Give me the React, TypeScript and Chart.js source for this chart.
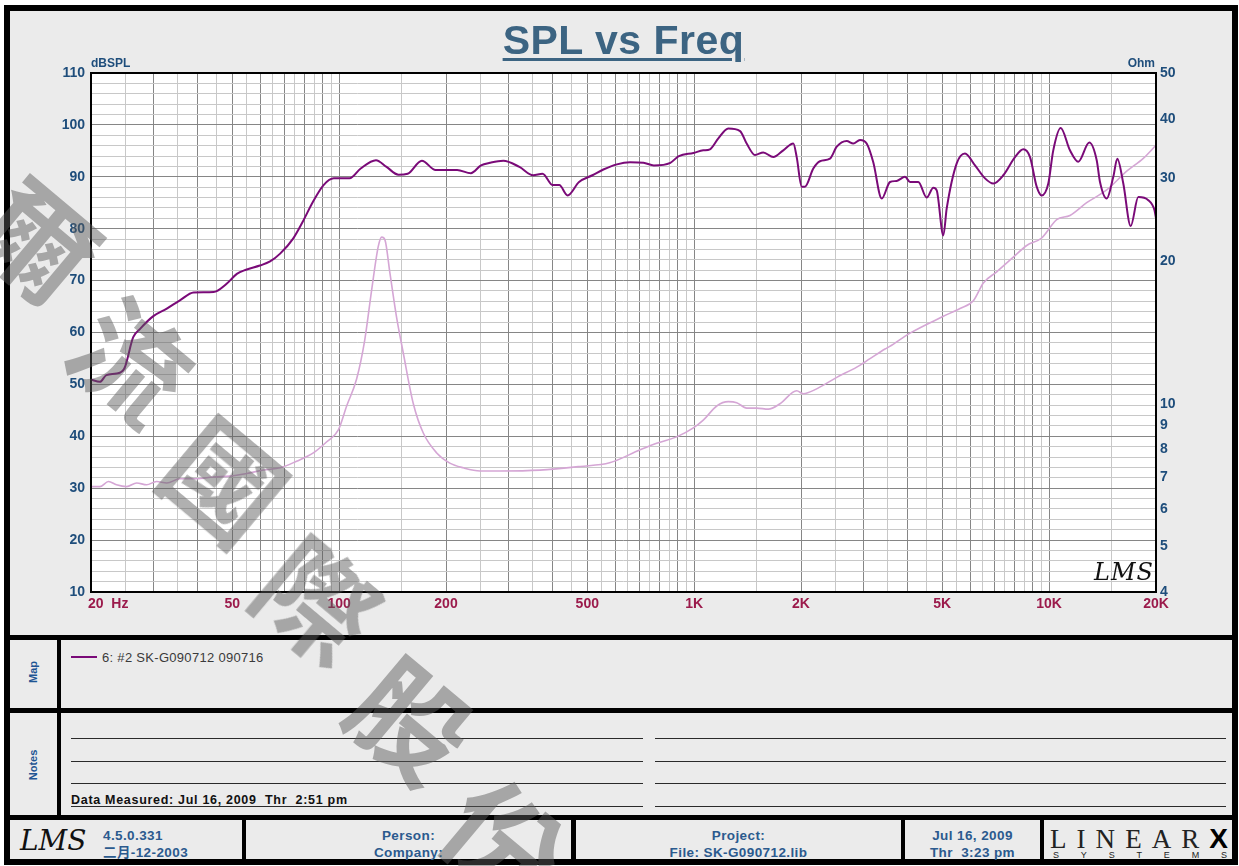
import React, { useEffect, useRef } from "react";
import { Chart, registerables } from "chart.js";

Chart.register(...registerables);

const FONT = "'Liberation Sans', Arial, sans-serif";

// ---- SPL curve (Hz, dBSPL) ----
const splFreq = [20, 21.2, 22.1, 23.6, 24.8, 26.3, 27.5, 29.9, 32.7, 35.6, 38.9, 44.3, 48.2, 51.5, 54.7, 59.8, 63.9, 68.2, 74.2, 78.9, 84.4, 90.4, 96.6, 107, 115, 127, 136, 147, 156, 171, 187, 215, 235, 251, 266, 290, 322, 352, 374, 400, 417, 440, 474, 517, 555, 606, 660, 720, 770, 857, 906, 995, 1061, 1108, 1170, 1248, 1347, 1406, 1484, 1566, 1671, 1783, 1903, 1945, 2009, 2052, 2166, 2262, 2414, 2522, 2690, 2808, 2932, 3062, 3196, 3376, 3563, 3721, 3926, 4056, 4280, 4520, 4718, 4823, 5035, 5146, 5491, 5794, 6183, 6598, 6961, 7430, 8013, 8458, 8834, 9224, 9528, 9946, 10272, 10778, 11448, 12080, 12974, 13614, 13908, 14526, 15162, 15562, 16178, 16972, 17830, 19026, 19800, 20000];
const splDb = [50.9, 50.5, 51.8, 52.1, 53.0, 59.1, 60.7, 63.1, 64.6, 66.2, 67.7, 67.8, 69.4, 71.3, 72.1, 72.9, 73.7, 75.2, 78.1, 81.3, 85.2, 88.4, 89.7, 89.7, 91.6, 93.2, 91.9, 90.4, 90.6, 93.1, 91.3, 91.3, 90.7, 92.2, 92.7, 93.1, 91.9, 90.3, 90.6, 88.4, 88.4, 86.4, 89.0, 90.3, 91.4, 92.4, 92.8, 92.7, 92.2, 92.7, 94.0, 94.6, 95.1, 95.3, 97.4, 99.3, 98.8, 96.4, 94.2, 94.7, 93.8, 95.1, 96.4, 93.8, 88.1, 88.1, 91.6, 93.0, 93.5, 95.8, 96.9, 96.4, 97.1, 96.4, 92.8, 85.8, 89.0, 89.2, 90.0, 89.0, 89.0, 86.0, 87.9, 87.4, 78.7, 83.9, 92.6, 94.5, 92.2, 89.7, 88.7, 90.3, 93.8, 95.3, 93.8, 88.1, 86.4, 88.7, 95.1, 99.4, 95.1, 92.9, 96.6, 93.2, 89.0, 85.8, 90.0, 93.5, 88.7, 80.5, 86.1, 85.5, 83.6, 82.0];

// ---- Impedance curve (Hz, Ohm) ----
const impFreq = [20, 21.2, 22.4, 23.6, 25.2, 26.9, 28.7, 30.6, 32.7, 35.6, 39.7, 44.2, 49.3, 54.9, 61.2, 68.2, 75.9, 84.6, 92.3, 99.5, 105, 112, 118, 123.5, 128.9, 131.8, 134.6, 139, 145, 151.6, 161.8, 172.6, 188.3, 205, 223.8, 249.4, 284, 368, 478, 578, 704, 784, 893, 995, 1061, 1158, 1248, 1318, 1406, 1501, 1618, 1745, 1945, 2030, 2214, 2522, 2871, 3129, 3449, 3548, 4056, 5035, 5610, 6116, 6527, 7118, 7926, 8645, 9528, 10504, 11448, 12758, 14526, 16540, 18416, 20000];
const impOhm = [6.68, 6.68, 6.85, 6.74, 6.68, 6.8, 6.74, 6.85, 6.8, 6.94, 6.94, 7.0, 7.03, 7.12, 7.24, 7.32, 7.56, 7.87, 8.31, 8.8, 9.89, 11.28, 13.6, 17.4, 21.5, 22.5, 22.2, 18.9, 15.3, 12.8, 10.0, 8.67, 7.87, 7.49, 7.32, 7.21, 7.21, 7.24, 7.37, 7.5, 7.99, 8.25, 8.51, 8.89, 9.23, 9.89, 10.1, 10.05, 9.79, 9.79, 9.74, 10.0, 10.65, 10.5, 10.75, 11.37, 11.95, 12.45, 13.05, 13.2, 14.1, 15.3, 15.9, 16.5, 18.0, 19.0, 20.4, 21.6, 22.4, 24.5, 25.0, 26.6, 28.3, 31.0, 33.0, 35.2];

// ---- Axes ----
const xLabelValues = [20, 50, 100, 200, 500, 1000, 2000, 5000, 10000, 20000];
const xLabelTexts = ["20  Hz", "50", "100", "200", "500", "1K", "2K", "5K", "10K", "20K"];
const gridDecades = [10, 100, 1000, 10000];
const gridSteps = [1, 1.5, 2, 2.5, 3, 3.5, 4, 4.5, 5, 5.5, 6, 6.5, 7, 7.5, 8, 8.5, 9, 9.5];
const ohmTicks = [4, 5, 6, 7, 8, 9, 10, 20, 30, 40, 50];
const watermarkChars = ["爾", "流", "國", "際", "股", "份"];

const xGridTicks: number[] = [];
gridDecades.forEach((d) => gridSteps.forEach((s) => {
  const v = Math.round(d * s);
  if (v >= 20 && v <= 20000) xGridTicks.push(v);
}));

const isWhole = (v: number) => {
  const m = v / Math.pow(10, Math.floor(Math.log10(v) + 1e-9));
  return Math.abs(m - Math.round(m)) < 1e-6;
};

const AXIS_BLUE = "#1e4d7b";
const FOOT_BLUE = "#2b5a8e";

const framePlugin = {
  id: "lmsFrame",
  beforeDraw(chart: any) {
    const { ctx, chartArea: a } = chart;
    ctx.save();
    ctx.fillStyle = "#ffffff";
    ctx.fillRect(a.left, a.top, a.right - a.left, a.bottom - a.top);
    ctx.restore();
  },
  afterDraw(chart: any) {
    const { ctx, chartArea: a } = chart;
    ctx.save();
    ctx.strokeStyle = "#000";
    ctx.lineWidth = 2;
    ctx.strokeRect(a.left, a.top, a.right - a.left, a.bottom - a.top);
    const xs = chart.scales.x;
    ctx.font = `bold 14px ${FONT}`;
    ctx.fillStyle = "#9b1a4b";
    ctx.textBaseline = "middle";
    xLabelValues.forEach((v, i) => {
      const px = xs.getPixelForValue(v);
      if (i === 0) {
        ctx.textAlign = "left";
        ctx.fillText(xLabelTexts[i], px - 3, a.bottom + 12);
      } else {
        ctx.textAlign = "center";
        ctx.fillText(xLabelTexts[i], px, a.bottom + 12);
      }
    });
    ctx.restore();
  },
};

function Rect({ x, y, w, h, c = "#000" }: { x: number; y: number; w: number; h: number; c?: string }) {
  return <div style={{ position: "absolute", left: x, top: y, width: w, height: h, background: c }} />;
}

function Txt({ x, y, children, style }: any) {
  return (
    <div style={{ position: "absolute", left: x, top: y, whiteSpace: "pre", lineHeight: 1, ...style }}>{children}</div>
  );
}

export default function App() {
  const ref = useRef<HTMLCanvasElement>(null);

  useEffect(() => {
    const canvas = ref.current!;
    const chart = new Chart(canvas, {
      type: "line",
      data: {
        datasets: [
          {
            label: "SPL",
            data: splFreq.map((f, i) => ({ x: f, y: splDb[i] })),
            yAxisID: "y",
            borderColor: "#7a0a78",
            borderWidth: 2,
            pointRadius: 0,
            cubicInterpolationMode: "monotone",
          },
          {
            label: "Impedance",
            data: impFreq.map((f, i) => ({ x: f, y: impOhm[i] })),
            yAxisID: "y1",
            borderColor: "#d5a6d5",
            borderWidth: 1.6,
            pointRadius: 0,
            cubicInterpolationMode: "monotone",
          },
        ],
      },
      options: {
        animation: false,
        responsive: false,
        maintainAspectRatio: false,
        events: [],
        layout: { padding: { left: 51, right: 43, top: 73, bottom: 48 } },
        plugins: { legend: { display: false }, tooltip: { enabled: false }, title: { display: false } },
        scales: {
          x: {
            type: "logarithmic",
            min: 20,
            max: 20000,
            afterBuildTicks: (s: any) => {
              s.ticks = xGridTicks.map((v) => ({ value: v }));
            },
            afterFit: (s: any) => {
              s.height = 0;
            },
            ticks: { display: false, autoSkip: false },
            border: { display: false },
            grid: {
              drawTicks: false,
              lineWidth: 1,
              color: (ctx: any) => (ctx.tick && isWhole(ctx.tick.value) ? "#868686" : "#c8c8c8"),
            },
          },
          y: {
            type: "linear",
            position: "left",
            min: 10,
            max: 110,
            afterFit: (s: any) => {
              s.width = 40;
            },
            ticks: {
              stepSize: 2,
              autoSkip: false,
              padding: 6,
              color: AXIS_BLUE,
              font: { family: FONT, size: 14, weight: "bold" },
              callback: (v: any) => (Math.round(v) % 10 === 0 ? String(v) : ""),
            },
            border: { display: false },
            grid: {
              drawTicks: false,
              lineWidth: 1,
              color: (ctx: any) => (ctx.tick && Math.round(ctx.tick.value) % 10 === 0 ? "#868686" : "#c8c8c8"),
            },
          },
          y1: {
            type: "logarithmic",
            position: "right",
            min: 4,
            max: 50,
            afterBuildTicks: (s: any) => {
              s.ticks = ohmTicks.map((v) => ({ value: v }));
            },
            afterFit: (s: any) => {
              s.width = 40;
            },
            ticks: {
              autoSkip: false,
              padding: 4,
              color: AXIS_BLUE,
              font: { family: FONT, size: 14, weight: "bold" },
              callback: (v: any) => String(v),
            },
            border: { display: false },
            grid: { drawOnChartArea: false, drawTicks: false },
          },
        },
      } as any,
      plugins: [framePlugin],
    });
    return () => chart.destroy();
  }, []);

  const blueBold = { color: FOOT_BLUE, fontWeight: "bold", fontSize: 13.5, letterSpacing: 0.4, fontFamily: FONT };
  const noteYs = [738, 761, 783, 806];

  return (
    <div
      style={{
        position: "absolute",
        left: 0,
        top: 0,
        width: 1239,
        height: 866,
        background: "#ffffff",
        overflow: "hidden",
        fontFamily: FONT,
      }}
    >
      <Rect x={4} y={5} w={1234} h={860} c="#ebebeb" />
      {/* frame bars */}
      <Rect x={4} y={5} w={1234} h={6} />
      <Rect x={4} y={859} w={1234} h={6} />
      <Rect x={4} y={5} w={6} h={860} />
      <Rect x={1232} y={5} w={6} h={860} />
      <Rect x={4} y={635} w={1234} h={5} />
      <Rect x={4} y={708} w={1234} h={5} />
      <Rect x={4} y={815} w={1234} h={5} />
      <Rect x={57} y={640} w={4} h={175} />
      <Rect x={242} y={820} w={4} h={39} />
      <Rect x={571} y={820} w={5} h={39} />
      <Rect x={901} y={820} w={4} h={39} />
      <Rect x={1040} y={820} w={4} h={39} />

      <canvas
        ref={ref}
        width={1239}
        height={640}
        style={{ position: "absolute", left: 0, top: 0, width: 1239, height: 640 }}
      />

      {/* title and units */}
      <div
        style={{
          position: "absolute",
          left: 4,
          top: 20,
          width: 1239,
          textAlign: "center",
          fontSize: 41,
          lineHeight: "41px",
          letterSpacing: 0.5,
          fontWeight: "bold",
          color: "#3c6482",
          textDecoration: "underline",
          textDecorationThickness: "3px",
          textUnderlineOffset: "3.5px",
        }}
      >
        SPL vs Freq
      </div>
      <Txt x={91} y={57} style={{ fontSize: 12, fontWeight: "bold", color: AXIS_BLUE }}>dBSPL</Txt>
      <div
        style={{
          position: "absolute",
          left: 1055,
          top: 57,
          width: 100,
          textAlign: "right",
          fontSize: 12,
          lineHeight: 1,
          fontWeight: "bold",
          color: AXIS_BLUE,
        }}
      >
        Ohm
      </div>
      <Txt x={1094} y={560} style={{ fontSize: 24, fontStyle: "italic", fontFamily: "'DejaVu Serif', serif", color: "#111", letterSpacing: 1 }}>
        LMS
      </Txt>

      {/* Map panel */}
      <div
        style={{
          position: "absolute",
          left: 33,
          top: 672,
          transform: "translate(-50%, -50%) rotate(-90deg)",
          fontSize: 11,
          fontWeight: "bold",
          color: "#1f5593",
          lineHeight: 1,
        }}
      >
        Map
      </div>
      <Rect x={71} y={656} w={26} h={2} c="#7a0a78" />
      <Txt x={102} y={651} style={{ fontSize: 13, color: "#3a3a3a", letterSpacing: 0.3 }}>6: #2 SK-G090712 090716</Txt>

      {/* Notes panel */}
      <div
        style={{
          position: "absolute",
          left: 33,
          top: 765,
          transform: "translate(-50%, -50%) rotate(-90deg)",
          fontSize: 11,
          fontWeight: "bold",
          color: "#1f5593",
          lineHeight: 1,
        }}
      >
        Notes
      </div>
      {noteYs.map((y) => (
        <React.Fragment key={y}>
          <Rect x={71} y={y} w={572} h={1} c="#2a2a2a" />
          <Rect x={655} y={y} w={571} h={1} c="#2a2a2a" />
        </React.Fragment>
      ))}
      <Txt x={71} y={794} style={{ fontSize: 12.5, fontWeight: "bold", color: "#111", letterSpacing: 0.7 }}>
        Data Measured: Jul 16, 2009  Thr  2:51 pm
      </Txt>

      {/* Footer */}
      <Txt x={20} y={827} style={{ fontSize: 28, fontStyle: "italic", fontFamily: "'DejaVu Serif', serif", color: "#111" }}>
        LMS
      </Txt>
      <Txt x={103} y={829} style={blueBold}>4.5.0.331</Txt>
      <Txt x={103} y={846} style={{ ...blueBold, fontFamily: `${FONT}, 'Noto Sans CJK SC'` }}>二月-12-2003</Txt>

      {[
        { l: 246, w: 325, a: "Person:", b: "Company:" },
        { l: 576, w: 325, a: "Project:", b: "File: SK-G090712.lib" },
        { l: 905, w: 135, a: "Jul 16, 2009", b: "Thr  3:23 pm" },
      ].map((c) => (
        <React.Fragment key={c.a}>
          <div style={{ position: "absolute", left: c.l, top: 829, width: c.w, textAlign: "center", lineHeight: 1, whiteSpace: "pre", ...blueBold }}>
            {c.a}
          </div>
          <div style={{ position: "absolute", left: c.l, top: 846, width: c.w, textAlign: "center", lineHeight: 1, whiteSpace: "pre", ...blueBold }}>
            {c.b}
          </div>
        </React.Fragment>
      ))}

      {/* LinearX logo */}
      <div
        style={{
          position: "absolute",
          left: 1050,
          top: 825,
          width: 178,
          display: "flex",
          justifyContent: "space-between",
          alignItems: "baseline",
          fontFamily: "'Liberation Serif', 'DejaVu Serif', serif",
          fontSize: 27,
          lineHeight: 1,
          color: "#222",
        }}
      >
        {["L", "I", "N", "E", "A", "R"].map((ch, i) => (
          <span key={i}>{ch}</span>
        ))}
        <span style={{ fontFamily: FONT, fontWeight: 900, fontSize: 28, color: "#000" }}>X</span>
      </div>
      <div
        style={{
          position: "absolute",
          left: 1053,
          top: 851,
          width: 174,
          display: "flex",
          justifyContent: "space-between",
          fontFamily: FONT,
          fontSize: 9,
          lineHeight: 1,
          color: "#222",
        }}
      >
        {["S", "Y", "S", "T", "E", "M", "S"].map((ch, i) => (
          <span key={i}>{ch}</span>
        ))}
      </div>

      {/* watermark */}
      {watermarkChars.map((ch, i) => (
        <div
          key={i}
          style={{
            position: "absolute",
            left: 42 + 93 * i,
            top: 237 + 120 * i,
            transform: "translate(-50%, -50%) rotate(40deg)",
            fontFamily: "'Noto Sans CJK TC', 'Noto Sans CJK SC', sans-serif",
            fontWeight: "bold",
            fontSize: 114,
            lineHeight: 1,
            color: "rgba(90,90,90,0.48)",
            pointerEvents: "none",
          }}
        >
          {ch}
        </div>
      ))}
    </div>
  );
}
